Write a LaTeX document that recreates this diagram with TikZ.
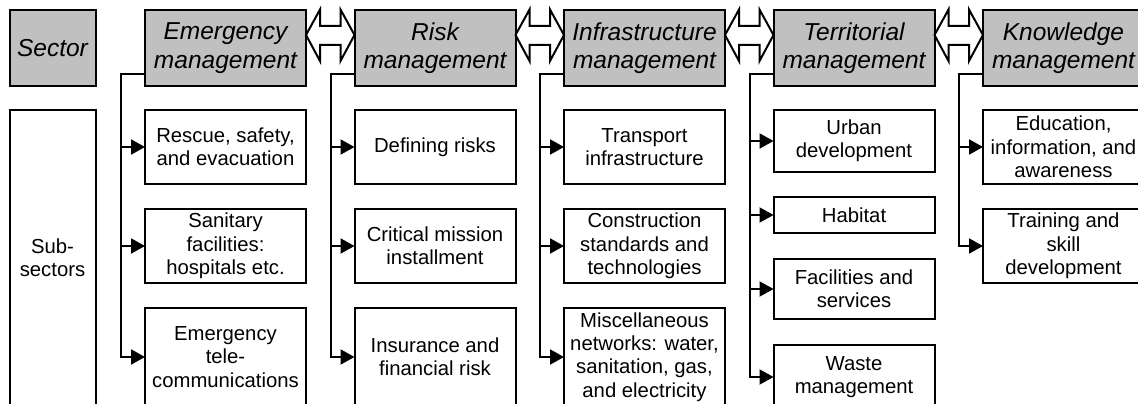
\documentclass[tikz,border=0pt]{standalone}
\usepackage{fontspec}
\setmainfont{Liberation Sans}
\usetikzlibrary{arrows.meta,calc}
\definecolor{hdrgray}{RGB}{192,192,192}
\tikzset{
  box/.style={draw=black, line width=2pt, inner sep=0pt, outer sep=0pt,
    align=center, anchor=north west, minimum width=161pt,
    font=\fontsize{20.3}{23.3}\selectfont},
  hdr/.style={box, fill=hdrgray, minimum height=76pt,
    font=\itshape\fontsize{24.5}{28.5}\selectfont},
  conn/.style={line width=2pt, line join=miter},
  feed/.style={conn, -{Triangle[length=14pt,width=15pt]}},
  dbl/.style={draw=black, fill=white, line width=2pt, line join=miter},
}
% two-headed block arrow linking the right side of #1 to the left side of #2
\newcommand\linkheads[2]{%
  \draw[dbl] ($(#1.north east)+(0,25)$) -- ++(14,-25.5) -- ++(0,16.5)
    -- ($(#2.north west)+(-14,16)$) -- ++(0,-16.5)
    -- ($(#2.north west)+(0,25)$) -- ++(-14,26) -- ++(0,-16)
    -- ($(#1.north east)+(14,35)$) -- ++(0,16) -- cycle;}
% trunk from a sector header down to its last sub-sector
\newcommand\trunk[2]{%
  \draw[feed] ($(#1.south west)+(0,-12)$) -| ($(#2.west)+(-24,0)$) -- (#2.west);}
\newcommand\branch[1]{%
  \draw[feed] ($(#1.west)+(-24,0)$) -- (#1.west);}
\begin{document}
\begin{tikzpicture}[x=1pt, y=-1pt]
\useasboundingbox (0,0) rectangle (1138,404);
\clip (0,0) rectangle (1138,404);

% left legend column
\node[hdr, minimum width=86pt] (sec) at (9.5,10) {Sector};
\node[box, minimum width=86pt, minimum height=296pt] (sub) at (9.5,110) {Sub-\\sectors};

% sector headers
\node[hdr] (h1) at (145,10)   {Emergency\\management};
\node[hdr] (h2) at (354.5,10) {Risk\\management};
\node[hdr] (h3) at (564,10)   {Infrastructure\\management};
\node[hdr] (h4) at (773.5,10) {Territorial\\management};
\node[hdr] (h5) at (983,10)   {Knowledge\\management};

\linkheads{h1}{h2}
\linkheads{h2}{h3}
\linkheads{h3}{h4}
\linkheads{h4}{h5}

% emergency management
\node[box, minimum height=74pt] (e1) at (145,110) {Rescue, safety,\\and evacuation};
\node[box, minimum height=74pt] (e2) at (145,209) {Sanitary\\facilities:\\hospitals etc.};
\node[box, minimum height=98pt] (e3) at (145,308) {Emergency\\tele-\\communications};

% risk management
\node[box, minimum height=74pt] (r1) at (354.5,110) {Defining risks};
\node[box, minimum height=74pt] (r2) at (354.5,209) {Critical mission\\installment};
\node[box, minimum height=98pt] (r3) at (354.5,308) {Insurance and\\financial risk};

% infrastructure management
\node[box, minimum height=74pt] (i1) at (564,110) {Transport\\infrastructure};
\node[box, minimum height=74pt] (i2) at (564,209) {Construction\\standards and\\technologies};
\node[box, minimum height=98pt] (i3) at (564,308) {Miscellaneous\\networks: water,\\sanitation, gas,\\and electricity};

% territorial management
\node[box, minimum height=62pt] (t1) at (773.5,110) {Urban\\development};
\node[box, minimum height=36pt] (t2) at (773.5,197) {Habitat};
\node[box, minimum height=60pt] (t3) at (773.5,259) {Facilities and\\services};
\node[box, minimum height=64pt] (t4) at (773.5,345) {Waste\\management};

% knowledge management
\node[box, minimum height=74pt] (k1) at (983,110) {Education,\\information, and\\awareness};
\node[box, minimum height=74pt] (k2) at (983,209) {Training and\\skill\\development};

% connectors
\trunk{h1}{e3} \branch{e1} \branch{e2}
\trunk{h2}{r3} \branch{r1} \branch{r2}
\trunk{h3}{i3} \branch{i1} \branch{i2}
\trunk{h4}{t4} \branch{t1} \branch{t2} \branch{t3}
\trunk{h5}{k2} \branch{k1}
\end{tikzpicture}
\end{document}
